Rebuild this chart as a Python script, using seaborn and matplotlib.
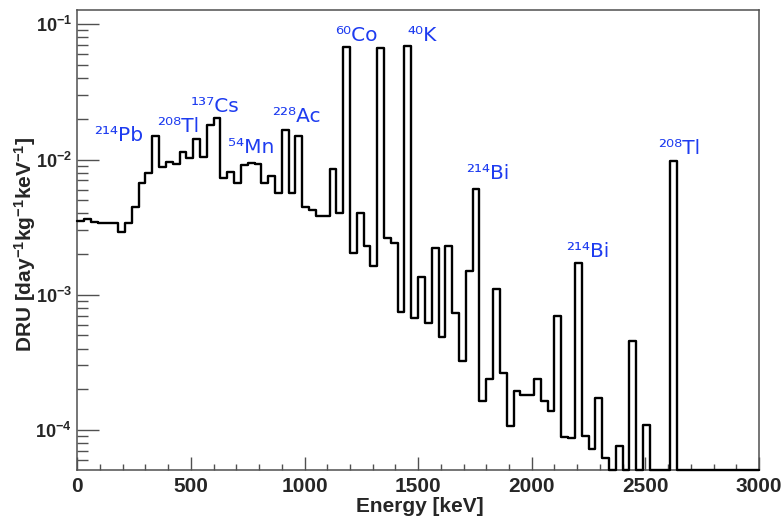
import numpy as np
import pandas as pd
import matplotlib
matplotlib.use("Agg")
import matplotlib.pyplot as plt
import matplotlib.ticker as mticker
import seaborn as sns

# ---------------- data ----------------
bin_width = 30  # keV
bin_starts = list(range(0, 3000, bin_width))
dru = [
    3.52e-3, 3.64e-3, 3.48e-3, 3.42e-3, 3.42e-3, 3.42e-3, 2.93e-3, 3.42e-3, 4.49e-3, 6.75e-3,   # 0-270
    8.0e-3, 1.49e-2, 8.87e-3, 9.66e-3, 9.23e-3, 1.14e-2, 1.02e-2, 1.41e-2, 1.05e-2, 1.80e-2,   # 300-570
    2.02e-2, 7.28e-3, 8.15e-3, 6.75e-3, 9.12e-3, 9.48e-3, 9.27e-3, 6.75e-3, 7.57e-3, 5.64e-3,  # 600-870
    1.66e-2, 5.64e-3, 1.48e-2, 4.49e-3, 4.25e-3, 3.83e-3, 3.83e-3, 8.48e-3, 4.0e-3, 6.76e-2,   # 900-1170
    2.05e-3, 4.0e-3, 2.30e-3, 1.62e-3, 6.65e-2, 2.62e-3, 2.41e-3, 7.5e-4, 6.95e-2, 6.71e-4,    # 1200-1470
    1.36e-3, 6.23e-4, 2.21e-3, 4.91e-4, 2.30e-3, 7.38e-4, 3.21e-4, 1.51e-3, 6.03e-3, 1.63e-4,  # 1500-1770
    2.38e-4, 1.10e-3, 2.63e-4, 1.07e-4, 1.93e-4, 1.82e-4, 1.82e-4, 2.38e-4, 1.65e-4, 1.37e-4,  # 1800-2070
    6.98e-4, 8.8e-5, 8.7e-5, 1.71e-3, 9.06e-5, 7.2e-5, 1.72e-4, 6.2e-5, 0.0, 7.6e-5,           # 2100-2370
    0.0, 4.58e-4, 0.0, 1.09e-4, 0.0, 0.0, 0.0, 9.77e-3, 0.0, 0.0,                              # 2400-2670
    0.0, 0.0, 0.0, 0.0, 0.0, 0.0, 0.0, 0.0, 0.0, 0.0,                                          # 2700-2970
]
assert len(dru) == len(bin_starts)

peak_labels = ["²¹⁴Pb", "²⁰⁸Tl", "¹³⁷Cs", "⁵⁴Mn", "²²⁸Ac",
               "⁶⁰Co", "⁴⁰K", "²¹⁴Bi", "²¹⁴Bi", "²⁰⁸Tl"]
label_x = [73, 351, 500, 663, 857, 1134, 1455, 1710, 2150, 2555]
label_y = [1.37e-2, 1.60e-2, 2.25e-2, 1.12e-2, 1.90e-2, 7.53e-2, 7.53e-2, 7.2e-3, 1.91e-3, 1.10e-2]

x_ticks = [0, 500, 1000, 1500, 2000, 2500, 3000]
y_min, y_max = 5.06e-5, 0.1276

# ---------------- style ----------------
sns.set_theme(style="white")
plt.rcParams["font.family"] = ["Liberation Sans", "DejaVu Sans"]
plt.rcParams["mathtext.fontset"] = "custom"
plt.rcParams["mathtext.rm"] = "Liberation Sans:bold"
plt.rcParams["mathtext.bf"] = "Liberation Sans:bold"
plt.rcParams["mathtext.it"] = "Liberation Sans:bold"

edges = bin_starts + [bin_starts[-1] + bin_width]
vals = dru + [dru[-1]]
df = pd.DataFrame({"energy": edges, "dru": np.maximum(vals, y_min)})

fig = plt.figure(figsize=(7.83, 5.2), dpi=100)
ax = fig.add_axes([0.0987, 0.0962, 0.8706, 0.8846])

sns.lineplot(data=df, x="energy", y="dru", drawstyle="steps-post", color="black",
             linewidth=1.7, ax=ax, clip_on=False, zorder=3)

ax.set_yscale("log")
ax.set_xlim(0, 3000)
ax.set_ylim(y_min, y_max)

ax.xaxis.set_major_locator(mticker.FixedLocator(x_ticks))
ax.xaxis.set_minor_locator(mticker.MultipleLocator(100))
ax.set_xticklabels([str(t) for t in x_ticks], fontsize=15, fontweight="bold")

ax.yaxis.set_major_locator(mticker.LogLocator(base=10, numticks=10))
ax.yaxis.set_minor_locator(mticker.LogLocator(base=10, subs=np.arange(2, 10), numticks=20))
ax.yaxis.set_minor_formatter(mticker.NullFormatter())
ax.yaxis.set_major_formatter(mticker.FuncFormatter(
    lambda v, pos: r"$\mathbf{10^{%d}}$" % int(round(np.log10(v)))))
ax.tick_params(axis="y", which="major", labelsize=13)

spine_col = "#505050"
for s in ax.spines.values():
    s.set_color(spine_col)
    s.set_linewidth(1.1)

ax.tick_params(axis="x", which="major", direction="in", length=9.5, width=1, color=spine_col,
               bottom=True, top=False, pad=5)
ax.tick_params(axis="x", which="minor", direction="in", length=4.5, width=1, color=spine_col,
               bottom=True, top=False)
ax.tick_params(axis="y", which="major", direction="in", length=16, width=1, color=spine_col,
               left=True, right=False, pad=4)
ax.tick_params(axis="y", which="minor", direction="in", length=8, width=1, color=spine_col,
               left=True, right=False)

ax.set_xlabel("Energy [keV]", fontsize=15, fontweight="bold", va="center")
ax.xaxis.set_label_coords(0.503, -0.080)
ax.set_ylabel(r"DRU [day$^{\mathbf{-1}}$kg$^{\mathbf{-1}}$keV$^{\mathbf{-1}}$]",
              fontsize=15, fontweight="bold", va="center")
ax.yaxis.set_label_coords(-0.0767, 0.49)

blue = "#1e3cf0"
for txt, xx, yy in zip(peak_labels, label_x, label_y):
    ax.text(xx, yy, txt, color=blue, fontsize=14.5, family="DejaVu Sans",
            ha="left", va="baseline", zorder=4)

ax.grid(False)
fig.savefig("out.png", dpi=100, facecolor="white")
